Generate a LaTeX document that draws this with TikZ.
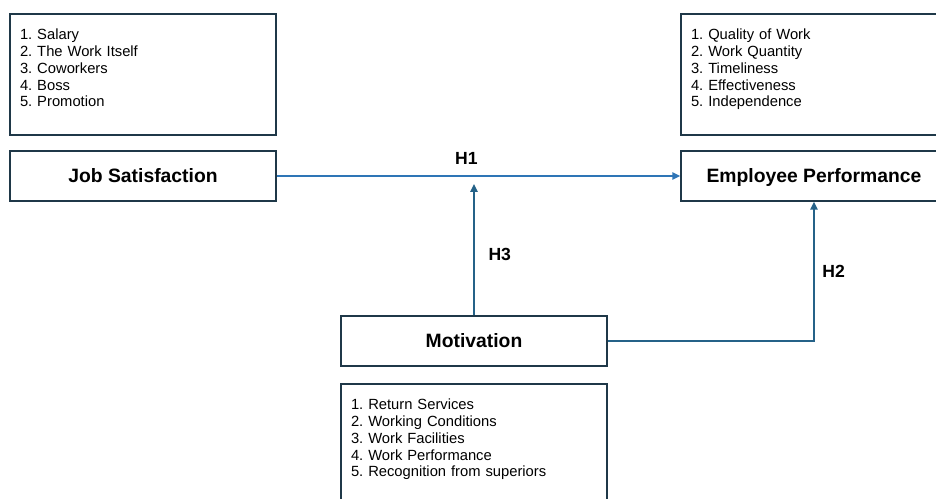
\documentclass[tikz,border=0pt]{standalone}
\usepackage{fontspec}
\setmainfont{Liberation Sans}
\usetikzlibrary{arrows.meta,positioning}

\definecolor{boxline}{RGB}{31,56,72}
\definecolor{hone}{RGB}{46,117,182}
\definecolor{htwo}{RGB}{37,98,136}

\tikzset{
    varbox/.style={draw=boxline, line width=0.9pt, minimum width=5.32cm,
        minimum height=1cm, text height=7.9pt, text depth=0pt,
        font=\fontsize{11}{13}\selectfont\bfseries},
    listbox/.style={draw=boxline, line width=0.9pt, text width=4.92cm,
        inner xsep=0.2cm, minimum height=2.42cm, align=left,
        font=\fontsize{8.4}{9.6}\selectfont\frenchspacing},
    hlink/.style={-{Triangle[length=4.5pt,width=4.2pt]}, line width=0.9pt},
    hyp/.style={font=\fontsize{10}{12}\selectfont\bfseries, text=black}
}

\begin{document}
\begin{tikzpicture}[x=0.02cm, y=-0.02cm]

    \useasboundingbox (0,0) rectangle (936,499);
    \clip (0,0) rectangle (936,499);

    % indicator boxes
    \node[listbox] (jsitems) at (143,74.5) {1. Salary\\2. The Work Itself\\3. Coworkers\\4. Boss\\5. Promotion\\[-2pt]\mbox{}};
    \node[listbox] (epitems) at (814,74.5) {1. Quality of Work\\2. Work Quantity\\3. Timeliness\\4. Effectiveness\\5. Independence\\[-2pt]\mbox{}};
    \node[listbox] (motitems) at (474,444.5) {1. Return Services\\2. Working Conditions\\3. Work Facilities\\4. Work Performance\\5. Recognition from superiors\\[-2pt]\mbox{}};

    % variables
    \node[varbox] (js) at (143,176) {Job Satisfaction};
    \node[varbox] (ep) at (814,176) {Employee Performance};
    \node[varbox] (mot) at (474,341) {Motivation};

    \coordinate (h3end) at (474,184);

    % hypotheses
    \draw[hlink, hone] (js.east) -- node[hyp, pos=0.47, above=3pt] (hone) {H1} (ep.west);
    \draw[hlink, htwo] (mot.north) -- node[hyp, pos=0.46, right=4.5pt] (hthree) {H3} (h3end);
    \draw[hlink, htwo] (mot.east) -| node[hyp, pos=0.75, right=1pt] (htwolbl) {H2} (ep.south);

\end{tikzpicture}
\end{document}
